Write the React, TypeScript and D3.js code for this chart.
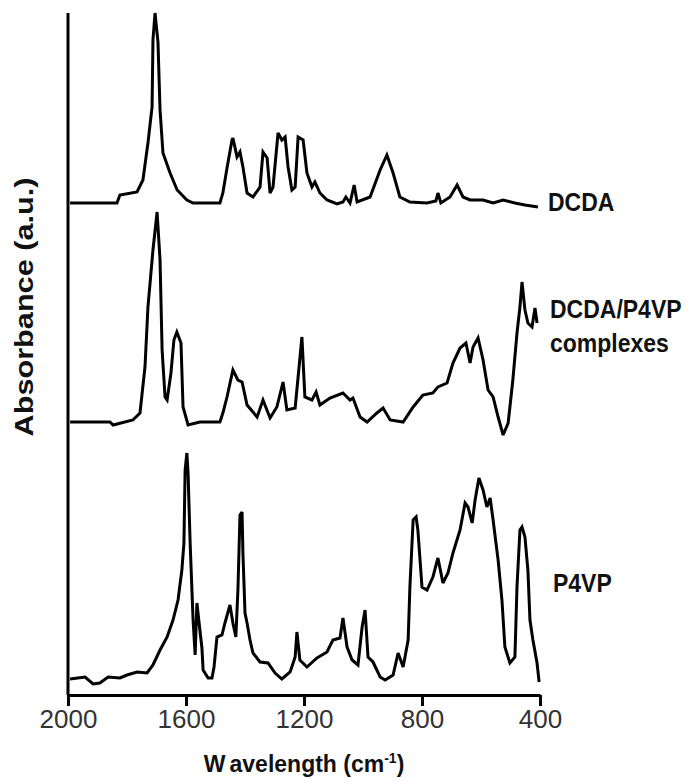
import { useEffect, useRef } from "react";
import * as d3 from "d3";

// spectra: [wavenumber (cm-1), absorbance above own baseline]
const dcda: [number, number][] = [
  [1993, 0.004], [1834, 0.004], [1824, 0.02], [1766, 0.026], [1746, 0.05], [1729, 0.124],
  [1715, 0.196], [1712, 0.33], [1705, 0.384], [1695, 0.326], [1688, 0.19], [1678, 0.104],
  [1654, 0.064], [1630, 0.03], [1597, 0.01], [1576, 0.004], [1485, 0.004], [1475, 0.024],
  [1461, 0.074], [1444, 0.13], [1441, 0.134], [1427, 0.096], [1417, 0.106], [1407, 0.076],
  [1393, 0.024], [1373, 0.016], [1349, 0.036], [1339, 0.106], [1325, 0.094], [1315, 0.024],
  [1305, 0.036], [1288, 0.144], [1275, 0.13], [1264, 0.136], [1254, 0.076], [1241, 0.03],
  [1230, 0.036], [1220, 0.136], [1203, 0.13], [1190, 0.064], [1173, 0.036], [1163, 0.046],
  [1146, 0.024], [1122, 0.01], [1088, 0.002], [1068, 0.006], [1058, 0.016], [1044, 0.004],
  [1030, 0.04], [1020, 0.006], [976, 0.016], [942, 0.07], [919, 0.1], [898, 0.064],
  [875, 0.016], [841, 0.006], [783, 0.004], [753, 0.008], [746, 0.024], [736, 0.004],
  [705, 0.016], [681, 0.04], [661, 0.016], [637, 0.01], [593, 0.01], [559, 0.004],
  [525, 0.01], [485, 0.004], [451, 0], [407, -0.004],
];

const complexes: [number, number][] = [
  [1993, 0], [1858, 0], [1847, -0.006], [1780, 0.004], [1756, 0.018], [1739, 0.11],
  [1729, 0.23], [1712, 0.344], [1698, 0.42], [1688, 0.324], [1681, 0.144], [1671, 0.05],
  [1664, 0.044], [1651, 0.098], [1641, 0.164], [1631, 0.18], [1617, 0.158], [1610, 0.03],
  [1593, -0.006], [1553, 0], [1485, 0], [1475, 0.018], [1461, 0.05], [1441, 0.104],
  [1424, 0.084], [1410, 0.08], [1393, 0.034], [1359, 0.01], [1339, 0.044], [1315, 0.008],
  [1292, 0.03], [1271, 0.08], [1258, 0.024], [1230, 0.028], [1207, 0.17], [1197, 0.05],
  [1173, 0.044], [1159, 0.06], [1146, 0.034], [1112, 0.048], [1068, 0.058], [1044, 0.044],
  [1034, 0.048], [1010, 0.01], [986, 0], [953, 0.018], [932, 0.028], [908, 0.004],
  [864, 0], [830, 0.03], [797, 0.054], [763, 0.058], [746, 0.07], [715, 0.078],
  [695, 0.118], [671, 0.148], [651, 0.158], [637, 0.118], [627, 0.15], [610, 0.168],
  [593, 0.124], [576, 0.064], [559, 0.05], [542, 0.01], [525, -0.026], [508, -0.002],
  [492, 0.084], [478, 0.178], [468, 0.23], [461, 0.28], [451, 0.224], [441, 0.198],
  [427, 0.19], [417, 0.228], [410, 0.198],
];

const p4vp: [number, number][] = [
  [1993, 0], [1942, 0.004], [1915, -0.01], [1892, -0.008], [1864, 0.004], [1824, 0.002],
  [1800, 0.008], [1766, 0.014], [1732, 0.012], [1712, 0.028], [1688, 0.058], [1664, 0.084],
  [1644, 0.118], [1627, 0.158], [1614, 0.218], [1607, 0.272], [1603, 0.418], [1597, 0.452],
  [1593, 0.412], [1586, 0.272], [1576, 0.118], [1569, 0.048], [1563, 0.152], [1553, 0.098],
  [1546, 0.062], [1542, 0.018], [1525, 0.002], [1512, 0.002], [1505, 0.024], [1495, 0.084],
  [1478, 0.088], [1468, 0.112], [1451, 0.148], [1441, 0.112], [1431, 0.084], [1424, 0.178],
  [1417, 0.328], [1410, 0.334], [1407, 0.252], [1400, 0.132], [1393, 0.112], [1383, 0.078],
  [1373, 0.052], [1349, 0.034], [1322, 0.032], [1298, 0.012], [1275, 0], [1247, 0.014],
  [1230, 0.044], [1224, 0.094], [1214, 0.038], [1190, 0.024], [1156, 0.042], [1122, 0.054],
  [1102, 0.078], [1078, 0.082], [1068, 0.122], [1054, 0.064], [1037, 0.038], [1017, 0.028],
  [1003, 0.104], [993, 0.138], [983, 0.044], [966, 0.034], [942, 0.004], [925, -0.002],
  [898, 0.008], [881, 0.052], [864, 0.024], [847, 0.078], [841, 0.184], [830, 0.318],
  [820, 0.324], [814, 0.298], [800, 0.184], [783, 0.178], [763, 0.204], [746, 0.242],
  [729, 0.192], [712, 0.212], [695, 0.252], [671, 0.298], [654, 0.352], [644, 0.344],
  [630, 0.312], [620, 0.358], [607, 0.402], [593, 0.378], [580, 0.344], [569, 0.362],
  [559, 0.318], [542, 0.238], [529, 0.158], [519, 0.064], [502, 0.032], [485, 0.044],
  [478, 0.184], [468, 0.298], [461, 0.304], [451, 0.284], [441, 0.218], [434, 0.118],
  [424, 0.078], [410, 0.032], [403, -0.006],
];

// vertical stacking offsets (a.u.)
const offsets = { dcda: 0.98, complexes: 0.546, p4vp: 0.032 };

const xTicks = [2000, 1600, 1200, 800, 400];

const W = 689;
const H = 782;
const margin = { top: 13, right: 149, bottom: 87, left: 68 };

export default function App() {
  const svgRef = useRef<SVGSVGElement | null>(null);

  useEffect(() => {
    if (!svgRef.current) return;
    const svg = d3.select(svgRef.current);
    svg.selectAll("*").remove();

    const x = d3
      .scaleLinear()
      .domain([2000, 400])
      .range([margin.left, W - margin.right]);
    const y = d3
      .scaleLinear()
      .domain([0, 1.364])
      .range([H - margin.bottom, margin.top]);

    const line = d3
      .line<[number, number]>()
      .x((d) => x(d[0]))
      .y((d) => y(d[1]));

    const series = [
      { data: dcda, off: offsets.dcda },
      { data: complexes, off: offsets.complexes },
      { data: p4vp, off: offsets.p4vp },
    ];

    series.forEach((s) => {
      svg
        .append("path")
        .datum(s.data.map((d) => [d[0], d[1] + s.off] as [number, number]))
        .attr("d", line)
        .attr("fill", "none")
        .attr("stroke", "#000")
        .attr("stroke-width", 3)
        .attr("stroke-linejoin", "miter")
        .attr("stroke-miterlimit", 3);
    });

    // axes
    const xAxis = d3
      .axisBottom(x)
      .tickValues(xTicks)
      .tickSize(11)
      .tickSizeOuter(0)
      .tickPadding(4)
      .tickFormat((d) => String(d));

    const gx = svg
      .append("g")
      .attr("transform", `translate(0,${H - margin.bottom})`)
      .call(xAxis);
    gx.select(".domain").attr("stroke", "#000").attr("stroke-width", 3);
    gx.selectAll(".tick line").attr("stroke", "#000").attr("stroke-width", 3);
    gx.selectAll(".tick text")
      .attr("fill", "#333")
      .style("font-family", "'Liberation Sans', Arial, sans-serif")
      .style("font-size", "26px");

    svg
      .append("line")
      .attr("x1", margin.left)
      .attr("x2", margin.left)
      .attr("y1", margin.top)
      .attr("y2", H - margin.bottom)
      .attr("stroke", "#000")
      .attr("stroke-width", 3);

    // axis titles
    const title = svg
      .append("text")
      .attr("x", (margin.left + W - margin.right) / 2)
      .attr("y", 772)
      .attr("text-anchor", "middle")
      .style("font-family", "'Liberation Sans', Arial, sans-serif")
      .style("font-weight", "bold")
      .style("font-size", "23px")
      .attr("fill", "#111");
    title.append("tspan").text("W");
    title.append("tspan").attr("dx", 5).text("avelength (cm");
    title.append("tspan").attr("dy", -9).style("font-size", "14px").text("-1");
    title.append("tspan").attr("dy", 9).text(")");

    svg
      .append("text")
      .attr("transform", "translate(33,307) rotate(-90)")
      .attr("text-anchor", "middle")
      .style("font-family", "'Liberation Sans', Arial, sans-serif")
      .style("font-weight", "bold")
      .style("font-size", "25px")
      .attr("fill", "#111")
      .attr("textLength", 259)
      .attr("lengthAdjust", "spacingAndGlyphs")
      .text("Absorbance (a.u.)");

    // series labels (original face is a condensed bold: stretch vertically)
    const labels = [
      { lines: ["DCDA"], x: 548, y: 211 },
      { lines: ["DCDA/P4VP", "complexes"], x: 550, y: 318 },
      { lines: ["P4VP"], x: 553, y: 592 },
    ];
    labels.forEach((l) => {
      l.lines.forEach((s, i) =>
        svg
          .append("text")
          .attr("transform", `translate(${l.x},${l.y + i * 34}) scale(1,1.15)`)
          .style("font-family", "'Liberation Sans', Arial, sans-serif")
          .style("font-weight", "bold")
          .style("font-size", "23px")
          .attr("fill", "#111")
          .text(s)
      );
    });
  }, []);

  return (
    <div style={{ position: "absolute", left: 0, top: 0 }}>
      <svg ref={svgRef} width={W} height={H} style={{ display: "block", background: "#fff" }} />
    </div>
  );
}
